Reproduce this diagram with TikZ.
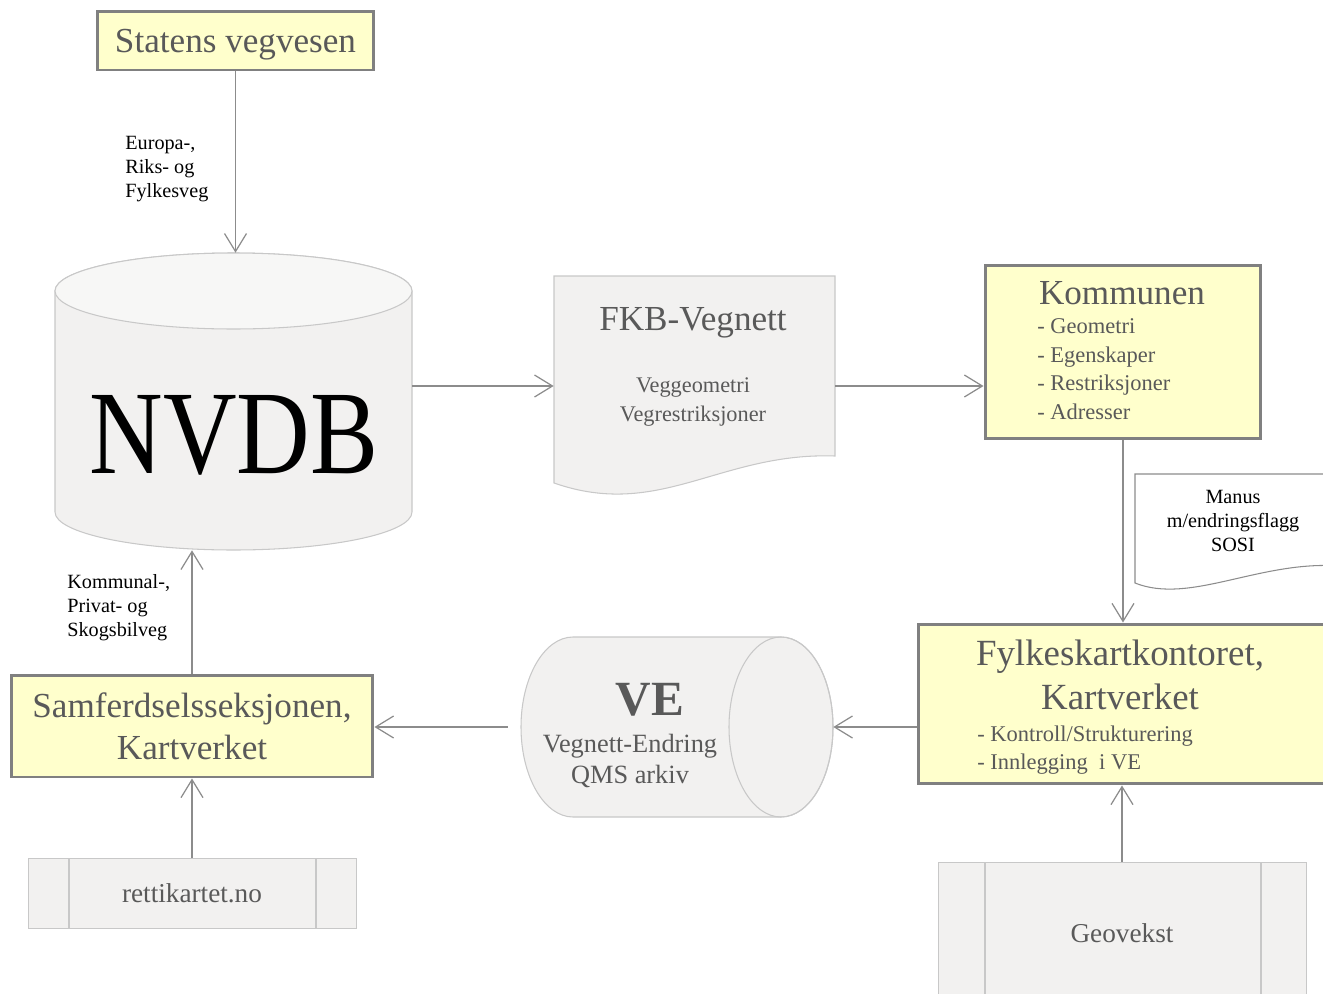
\documentclass[tikz,border=0pt]{standalone}
\usepackage{fontspec}
\setmainfont{Liberation Serif}
\usetikzlibrary{arrows.meta}
\definecolor{boxyellow}{RGB}{255,255,204}
\definecolor{boxedge}{RGB}{128,128,128}
\definecolor{shapefill}{RGB}{242,241,240}
\definecolor{shapeedge}{RGB}{200,200,200}
\definecolor{txtgray}{RGB}{89,89,89}
\definecolor{linegray}{RGB}{140,140,140}
\begin{document}
\begin{tikzpicture}[x=0.02cm, y=-0.02cm,
  orgbox/.style={draw=boxedge, line width=1.7pt, fill=boxyellow, text=txtgray, align=center, inner sep=0pt},
  bigtxt/.style={font=\fontsize{20}{24}\selectfont},
  listtxt/.style={text=txtgray, align=left, inner sep=0pt, font=\fontsize{12.8}{16.3}\selectfont},
  edgelbl/.style={align=left, inner sep=0pt, font=\fontsize{11.5}{13.7}\selectfont},
  graybox/.style={draw=shapeedge, fill=shapefill, text=txtgray, inner sep=0pt, font=\fontsize{15.5}{18}\selectfont},
  shapeline/.style={draw=shapeedge, line width=0.6pt},
  flow/.style={draw=linegray, line width=0.7pt, -{Straight Barb[length=3.6mm, width=4.4mm]}}]
\useasboundingbox (0,0) rectangle (1323,994);
\node[orgbox, bigtxt, text depth=0pt, minimum width=5.54cm, minimum height=1.18cm] (statens) at (235.5,40.5) {Statens vegvesen};
\node[edgelbl, anchor=west] (vegtype1) at (125,169) {Europa-,\\Riks- og\\Fylkesveg};
\node[minimum width=7.14cm, minimum height=5.94cm, inner sep=0pt] (nvdb) at (233.5,401.5) {};
\filldraw[shapeline, fill=shapefill] (55,291) -- (55,512) arc[start angle=180, end angle=0, x radius=178.5, y radius=38] -- (412,291) arc[start angle=0, end angle=-180, x radius=178.5, y radius=38] -- cycle;
\filldraw[shapeline, fill=shapefill!60!white] (233.5,291) ellipse[x radius=178.5, y radius=38];
\node[inner sep=0pt, font=\fontsize{58}{60}\selectfont] (nvdbtxt) at (234,435) {\scalebox{1}[1.17]{NVDB}};
\node[minimum width=5.62cm, minimum height=4.4cm, inner sep=0pt] (fkb) at (694.5,386) {};
\filldraw[shapeline, fill=shapefill] (554,276) -- (835,276) -- (835,456) .. controls (720,452) and (660,520) .. (554,483) -- cycle;
\node[text=txtgray, bigtxt, inner sep=0pt] (fkbtitle) at (693,323) {FKB-Vegnett};
\node[text=txtgray, align=center, inner sep=0pt, font=\fontsize{12.7}{17}\selectfont] (fkbsub) at (693,402) {Veggeometri\\Vegrestriksjoner};
\node[orgbox, minimum width=5.52cm, minimum height=3.48cm] (komm) at (1123,352) {};
\node[text=txtgray, bigtxt, inner sep=0pt] (kommtitle) at (1122,293) {Kommunen};
\node[listtxt, anchor=west] (kommlist) at (1037,369) {- Geometri\\- Egenskaper\\- Restriksjoner\\- Adresser};
\filldraw[draw=linegray, line width=0.6pt, fill=white] (1340,474) -- (1135,474) -- (1135,583) .. controls (1190,605) and (1260,560) .. (1340,566);
\node[edgelbl, align=center] (manus) at (1233,521) {Manus\\m/endringsflagg\\SOSI};
\node[orgbox, minimum width=8.34cm, minimum height=3.2cm] (fylke) at (1126.5,704) {};
\node[text=txtgray, align=center, inner sep=0pt, font=\fontsize{21}{25}\selectfont] (fylketitle) at (1120,675) {Fylkeskartkontoret,\\Kartverket};
\node[listtxt, anchor=west] (fylkelist) at (977,750) {- Kontroll/Strukturering\\- Innlegging\ \ i VE};
\node[minimum width=6.24cm, minimum height=3.6cm, inner sep=0pt] (ve) at (677,727) {};
\filldraw[shapeline, fill=shapefill] (781,637) -- (573,637) arc[start angle=-90, end angle=-270, x radius=52, y radius=90] -- (781,817) arc[start angle=90, end angle=-90, x radius=52, y radius=90] -- cycle;
\draw[shapeline] (781,727) ellipse[x radius=52, y radius=90];
\node[text=txtgray, inner sep=0pt, font=\fontsize{28}{30}\selectfont\bfseries] (vetitle) at (650,700) {VE};
\node[text=txtgray, align=center, inner sep=0pt, font=\fontsize{15}{18}\selectfont] (vesub) at (630,761) {Vegnett-Endring\\QMS arkiv};
\node[orgbox, bigtxt, minimum width=7.24cm, minimum height=2.04cm] (samf) at (192,726) {Samferdselsseksjonen,\\Kartverket};
\node[edgelbl, anchor=west] (vegtype2) at (67,608) {Kommunal-,\\Privat- og\\Skogsbilveg};
\node[graybox, minimum width=6.56cm, minimum height=1.4cm] (retti) at (192,893) {rettikartet.no};
\draw[shapeline] (69,858) -- (69,928) (316,858) -- (316,928);
\node[graybox, minimum width=7.36cm, minimum height=2.84cm] (geo) at (1122,933) {Geovekst};
\draw[shapeline] (985,862) -- (985,1004) (1261,862) -- (1261,1004);
\draw[flow] (statens.south) -- (statens.south |- nvdb.north);
\draw[flow] (nvdb.east |- fkb.west) -- (fkb.west);
\draw[flow] (fkb.east) -- (fkb.east -| komm.west);
\draw[flow] (komm.south) -- (komm.south |- fylke.north);
\draw[flow] (fylke.west |- ve.east) -- (ve.east);
\draw[flow, shorten <=0.26cm] (ve.west) -- (ve.west -| samf.east);
\draw[flow] (samf.north) -- (samf.north |- nvdb.south);
\draw[flow] (retti.north) -- (samf.south);
\draw[flow] (geo.north) -- (geo.north |- fylke.south);
\end{tikzpicture}
\end{document}
